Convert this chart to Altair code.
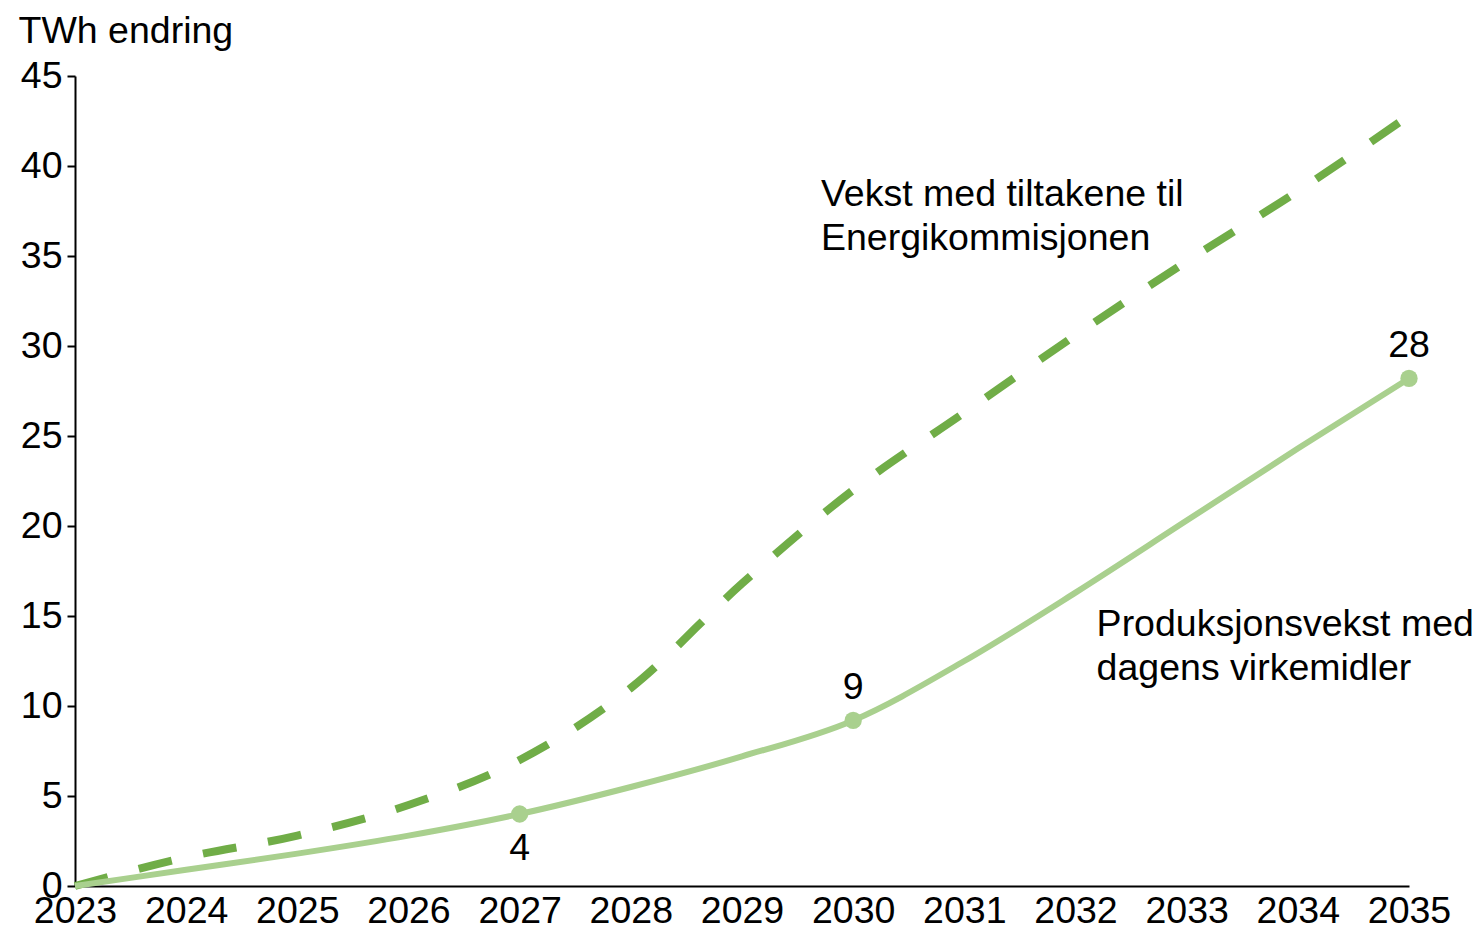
import altair as alt
import pandas as pd

years = list(range(2023, 2036))
tiltak = [0, 1.6, 2.8, 4.5, 7.0, 11.0, 16.8, 22.0, 26.3, 30.6, 34.7, 38.6, 42.8]
dagens = [0, 0.9, 1.8, 2.8, 4.0, 5.5, 7.2, 9.2, 12.5, 16.3, 20.3, 24.3, 28.2]

marker_years = [2027, 2030, 2035]
marker_values = [4.0, 9.2, 28.2]
marker_labels = ["4", "9", "28"]

ann_text = ["Vekst med tiltakene til\nEnergikommisjonen", "Produksjonsvekst med\ndagens virkemidler"]
ann_x = [2029.71, 2032.19]
ann_y = [37.8, 13.9]

FONT = "Liberation Sans"
FS = 37.5

df_t = pd.DataFrame({"year": years, "value": tiltak})
df_d = pd.DataFrame({"year": years, "value": dagens})
df_m = pd.DataFrame({"year": marker_years, "value": marker_values, "label": marker_labels})
df_a = pd.DataFrame({"year": ann_x, "value": ann_y, "text": ann_text})

xs = alt.Scale(domain=[2023, 2035], nice=False, zero=False)
ys = alt.Scale(domain=[0, 45], nice=False)

xax = alt.Axis(values=years, format="d", title=None, ticks=False, grid=False,
               domainColor="black", domainWidth=2, labelFont=FONT, labelFontSize=FS,
               labelColor="black", labelPadding=6, labelFlush=False, labelOverlap=False)
yax = alt.Axis(values=list(range(0, 46, 5)), title="TWh endring", titleAngle=0,
               titleAlign="left", titleBaseline="alphabetic", titleX=-57, titleY=-34,
               titleFont=FONT, titleFontSize=FS, titleFontWeight="normal", titleColor="black",
               grid=False, ticks=True, tickSize=8, tickColor="black", tickWidth=2,
               domainColor="black", domainWidth=2, labelFont=FONT, labelFontSize=FS,
               labelColor="black", labelPadding=5)

x = alt.X("year:Q", scale=xs, axis=xax)
y = alt.Y("value:Q", scale=ys, axis=yax)

dashed = alt.Chart(df_t).mark_line(color="#70AD47", strokeWidth=8, strokeDash=[34, 32],
                                   interpolate="monotone").encode(x=x, y=y)
solid = alt.Chart(df_d).mark_line(color="#A9D08E", strokeWidth=6,
                                  interpolate="monotone").encode(x="year:Q", y="value:Q")
pts = alt.Chart(df_m).mark_point(filled=True, size=300, color="#A9D08E", opacity=1).encode(
    x="year:Q", y="value:Q")
lab_below = alt.Chart(df_m).transform_filter(alt.datum.label == "4").mark_text(
    font=FONT, fontSize=FS, color="black", dy=35).encode(x="year:Q", y="value:Q", text="label:N")
lab_above = alt.Chart(df_m).transform_filter(alt.datum.label != "4").mark_text(
    font=FONT, fontSize=FS, color="black", dy=-32).encode(x="year:Q", y="value:Q", text="label:N")
ann = alt.Chart(df_a).mark_text(font=FONT, fontSize=FS, color="black", align="left",
                                baseline="alphabetic", lineBreak="\n", lineHeight=44).encode(
    x="year:Q", y="value:Q", text="text:N")

chart = alt.layer(dashed, solid, pts, lab_below, lab_above, ann).properties(
    width=1334, height=810,
    autosize=alt.AutoSizeParams(type="none"),
    padding={"left": 67, "top": 68, "right": 67, "bottom": 45},
).configure(background="white").configure_view(stroke="transparent", strokeWidth=0)

chart.save("out.html", embed_options={"renderer": "svg", "actions": False})
